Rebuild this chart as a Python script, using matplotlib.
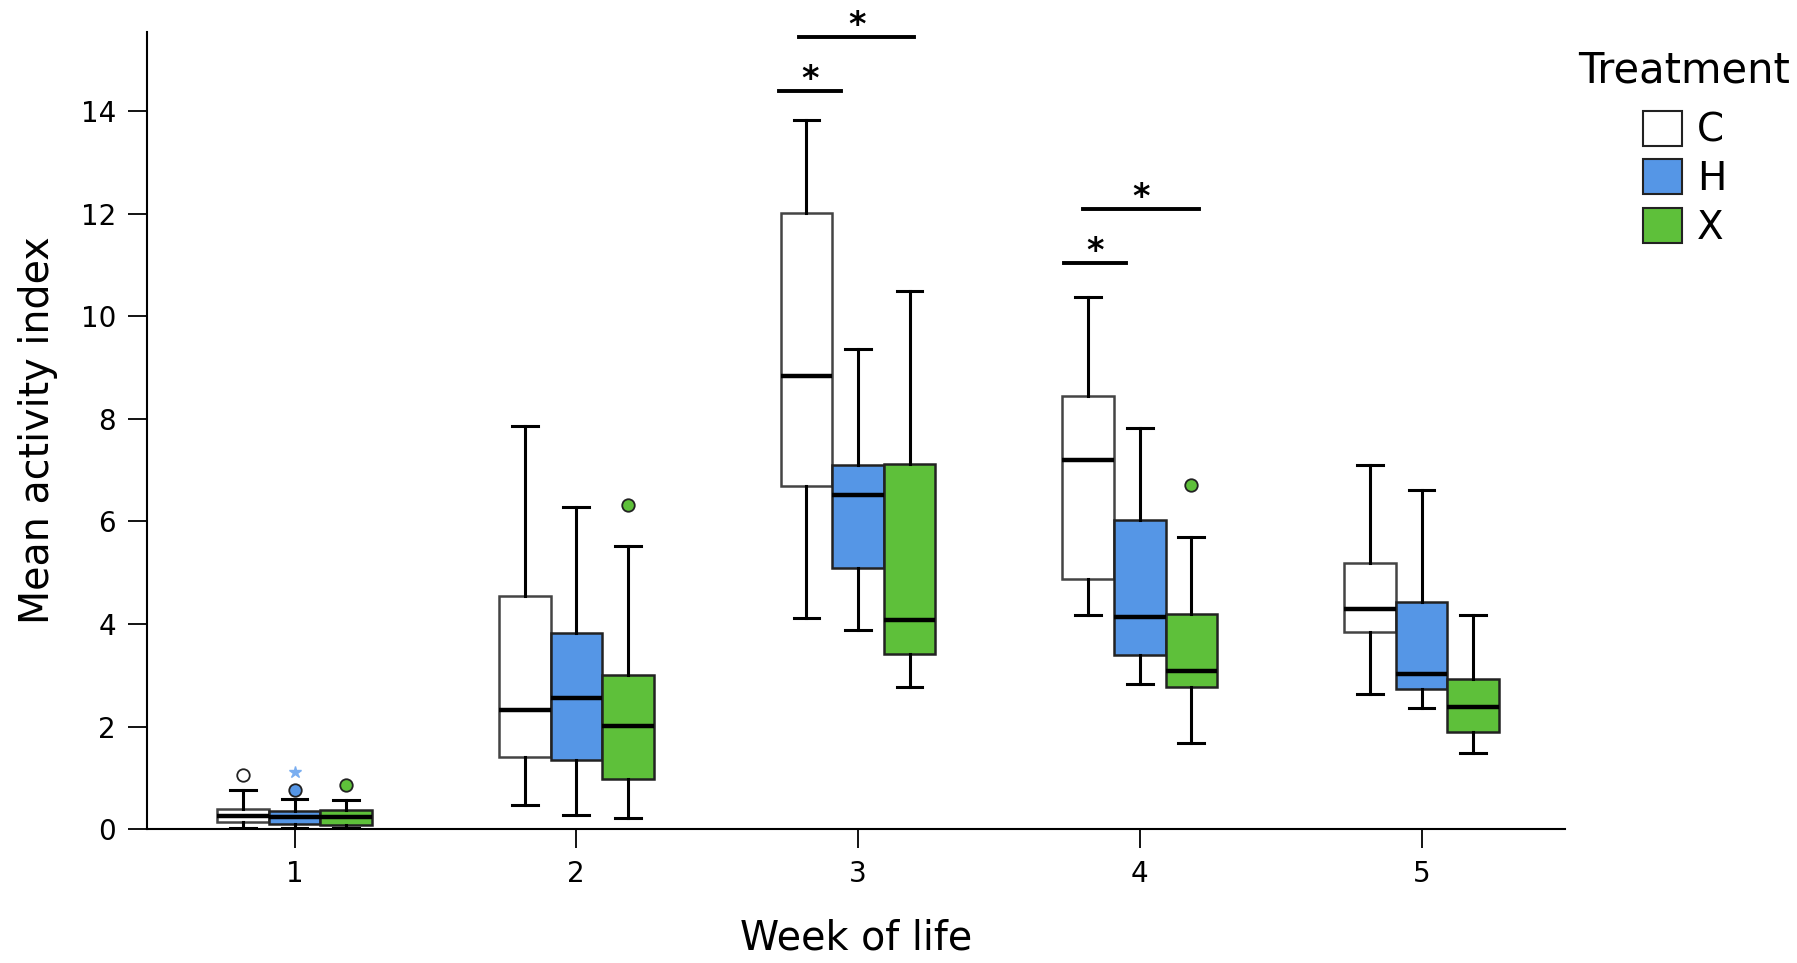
import matplotlib.pyplot as plt
from matplotlib.patches import Patch

# Donnees
weeks = [1, 2, 3, 4, 5]
treatments = ['C', 'H', 'X']
colors = ['white', '#5596E6', '#5EC03A']

# C
C_low = [0.03, 0.47, 4.12, 4.18, 2.64]
C_q1 = [0.13, 1.41, 6.69, 4.88, 3.85]
C_med = [0.25, 2.33, 8.83, 7.20, 4.29]
C_q3 = [0.40, 4.54, 12.01, 8.45, 5.19]
C_high = [0.76, 7.87, 13.82, 10.38, 7.11]
C_out = [[1.05], [], [], [], []]
# H
H_low = [0.03, 0.27, 3.89, 2.84, 2.37]
H_q1 = [0.11, 1.34, 5.10, 3.40, 2.73]
H_med = [0.24, 2.55, 6.51, 4.14, 3.02]
H_q3 = [0.35, 3.82, 7.11, 6.02, 4.43]
H_high = [0.58, 6.28, 9.37, 7.83, 6.62]
H_out = [[0.77], [], [], [], []]
H_extreme = [[1.11], [], [], [], []]
# X
X_low = [0.03, 0.22, 2.77, 1.68, 1.48]
X_q1 = [0.08, 0.98, 3.42, 2.77, 1.90]
X_med = [0.23, 2.01, 4.07, 3.09, 2.39]
X_q3 = [0.37, 3.00, 7.13, 4.20, 2.93]
X_high = [0.57, 5.52, 10.49, 5.70, 4.18]
X_out = [[0.86], [6.33], [], [6.71], []]

# Significativite
sig_left = [2.72, 2.79, 3.73, 3.80]
sig_right = [2.94, 3.20, 3.95, 4.21]
sig_y = [14.40, 15.45, 11.05, 12.10]

series = {
    'C': (C_low, C_q1, C_med, C_q3, C_high, C_out),
    'H': (H_low, H_q1, H_med, H_q3, H_high, H_out),
    'X': (X_low, X_q1, X_med, X_q3, X_high, X_out),
}

fig = plt.figure(figsize=(17.97, 9.63), dpi=100)
ax = fig.add_axes([0.0816, 0.139, 0.7894, 0.828])

width = 0.183
offsets = [-width, 0, width]

for (name, col, off) in zip(treatments, colors, offsets):
    low, q1, med, q3, high, out = series[name]
    stats = []
    for i in range(len(weeks)):
        stats.append({'whislo': low[i], 'q1': q1[i], 'med': med[i], 'q3': q3[i],
                      'whishi': high[i], 'fliers': out[i]})
    edge = '#444444' if name == 'C' else '#222222'
    ax.bxp(stats, positions=[w + off for w in weeks], widths=width,
           patch_artist=True, capwidths=width * 0.5,
           boxprops=dict(facecolor=col, edgecolor=edge, linewidth=1.8),
           medianprops=dict(color='black', linewidth=3.2),
           whiskerprops=dict(color='black', linewidth=2.2),
           capprops=dict(color='black', linewidth=2.2),
           flierprops=dict(marker='o', markerfacecolor=col, markeredgecolor='#222222',
                           markersize=9, markeredgewidth=1.3),
           manage_ticks=False)

# Valeurs extremes (etoile)
for i, w in enumerate(weeks):
    for v in H_extreme[i]:
        ax.plot(w, v, marker='*', color='#7AAEF0', markersize=9, linestyle='none')

# Barres de significativite
for x1, x2, y in zip(sig_left, sig_right, sig_y):
    ax.plot([x1, x2], [y, y], color='black', linewidth=2.8, clip_on=False)
    ax.text((x1 + x2) / 2, y + 0.22, '*', ha='center', va='center',
            fontsize=24, fontweight='bold', clip_on=False)

ax.set_xlim(0.475, 5.51)
ax.set_ylim(0, 15.55)
ax.set_xticks(weeks)
ax.set_yticks(range(0, 15, 2))
ax.tick_params(axis='both', labelsize=20, length=14, width=1.3, direction='out', pad=8)
ax.spines['top'].set_visible(False)
ax.spines['right'].set_visible(False)
ax.spines['left'].set_linewidth(1.5)
ax.spines['bottom'].set_linewidth(1.5)

ax.set_xlabel('Week of life', fontsize=28.5, labelpad=22)
ax.set_ylabel('Mean activity index', fontsize=28.5, labelpad=16)

handles = [Patch(facecolor=c, edgecolor='#222222', linewidth=1.5) for c in colors]
leg = fig.legend(handles, treatments, title='Treatment', loc='upper left',
                 bbox_to_anchor=(0.859, 0.985), frameon=False, fontsize=28,
                 title_fontsize=30, handlelength=1.0, handleheight=1.0,
                 handletextpad=0.4, labelspacing=0.25)
leg._legend_box.sep = 14

plt.savefig('out.png', dpi=100)
